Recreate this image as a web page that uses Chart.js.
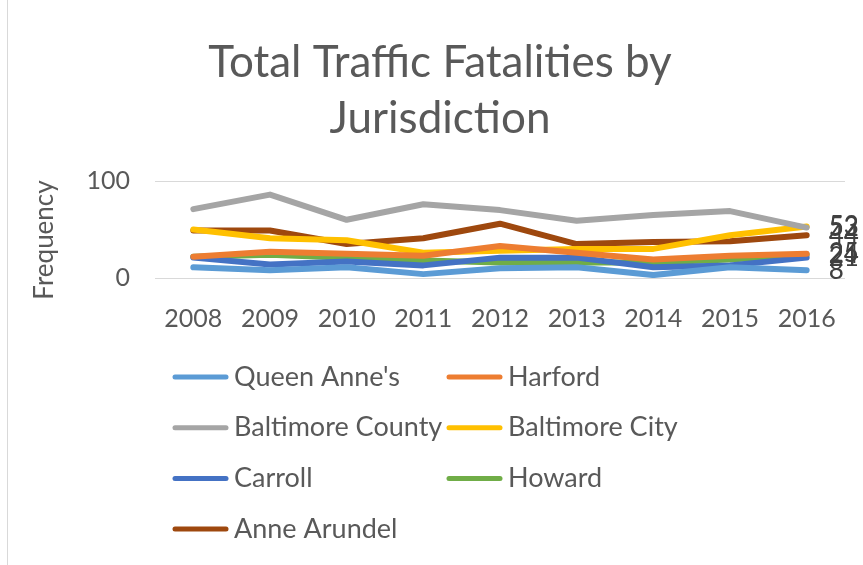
<!DOCTYPE html>
<html>
<head>
<meta charset="utf-8">
<script src="https://cdn.jsdelivr.net/npm/chart.js@4"></script>
<style>
  html, body { margin: 0; padding: 0; background: #fff; }
  #wrap { position: relative; width: 863px; height: 565px; }
  #wrap::before { content: ""; position: absolute; left: 7px; top: 0; bottom: 0; border-left: 1px solid #d9d9d9; }
</style>
</head>
<body>
<div id="wrap"><canvas id="traffic" width="863" height="565"></canvas></div>
<script>
// years on the x axis
var years = ['2008', '2009', '2010', '2011', '2012', '2013', '2014', '2015', '2016'];
var yTicks = [0, 100];

// fatalities per jurisdiction
var queenAnnes = [11, 8, 11, 4, 10, 11, 3, 11, 8];
var harford = [22, 27, 25, 23, 33, 26, 19, 23, 25];
var baltimoreCounty = [71, 86, 60, 76, 70, 59, 65, 69, 52];
var baltimoreCity = [50, 41, 39, 26, 28, 30, 30, 44, 53];
var carroll = [21, 14, 17, 13, 21, 21, 11, 13, 21];
var howard = [22, 24, 21, 18, 16, 16, 16, 19, 24];
var anneArundel = [49, 49, 35, 41, 56, 35, 37, 38, 44];

var FONT = 'Lato';
var TEXT = '#595959';

function series(label, data, color) {
    return {
        label: label,
        data: data,
        borderColor: color,
        backgroundColor: color,
        borderWidth: 6,
        borderCapStyle: 'round',
        borderJoinStyle: 'round',
        pointRadius: 0,
        pointHoverRadius: 0,
        tension: 0,
        fill: false
    };
}

// value of the last year, right of the line end
var endLabels = {
    id: 'endLabels',
    afterDatasetsDraw: function(chart) {
        var ctx = chart.ctx;
        ctx.save();
        ctx.font = '26px ' + FONT;
        ctx.fillStyle = '#404040';
        ctx.textAlign = 'left';
        ctx.textBaseline = 'middle';
        chart.data.datasets.forEach(function(ds, i) {
            var pts = chart.getDatasetMeta(i).data;
            var p = pts[pts.length - 1];
            ctx.fillText(ds.data[ds.data.length - 1], p.x + 22, p.y);
        });
        ctx.restore();
    }
};

// axis title sits a bit low, like in the excel file
var yTitle = {
    id: 'yTitle',
    afterDraw: function(chart) {
        var ctx = chart.ctx;
        ctx.save();
        ctx.translate(53, 240);
        ctx.rotate(-Math.PI / 2);
        ctx.font = '26px ' + FONT;
        ctx.fillStyle = TEXT;
        ctx.textAlign = 'center';
        ctx.textBaseline = 'alphabetic';
        ctx.fillText('Frequency', 0, 0);
        ctx.restore();
    }
};

// two column legend like the excel one
var gridLegend = {
    id: 'gridLegend',
    afterDraw: function(chart) {
        var ctx = chart.ctx;
        ctx.save();
        ctx.font = '27px ' + FONT;
        ctx.textBaseline = 'middle';
        ctx.textAlign = 'left';
        chart.data.datasets.forEach(function(ds, i) {
            var col = i % 2;
            var row = Math.floor(i / 2);
            var x = col === 0 ? 173 : 447;
            var y = 377 + row * 50.7;
            ctx.strokeStyle = ds.borderColor;
            ctx.lineWidth = 5;
            ctx.lineCap = 'round';
            ctx.beginPath();
            ctx.moveTo(x + 2, y);
            ctx.lineTo(x + 53, y);
            ctx.stroke();
            ctx.fillStyle = TEXT;
            ctx.fillText(ds.label, x + 61, y);
        });
        ctx.restore();
    }
};

new Chart(document.getElementById('traffic'), {
    type: 'line',
    data: {
        labels: years,
        datasets: [
            series("Queen Anne's", queenAnnes, '#5B9BD5'),
            series('Harford', harford, '#ED7D31'),
            series('Baltimore County', baltimoreCounty, '#A5A5A5'),
            series('Baltimore City', baltimoreCity, '#FFC000'),
            series('Carroll', carroll, '#4472C4'),
            series('Howard', howard, '#70AD47'),
            series('Anne Arundel', anneArundel, '#9E480E')
        ]
    },
    options: {
        responsive: false,
        animation: false,
        layout: { padding: { left: 35, right: 18, top: 0, bottom: 237 } },
        scales: {
            x: {
                offset: true,
                grid: { display: false, drawTicks: false },
                border: { display: false },
                ticks: { color: TEXT, font: { family: FONT, size: 25 }, padding: 26, maxRotation: 0 },
                afterFit: function(scale) { scale.height = 50; }
            },
            y: {
                min: 0,
                max: 100,
                afterBuildTicks: function(scale) {
                    scale.ticks = yTicks.map(function(v) { return { value: v }; });
                },
                grid: { color: '#d9d9d9', lineWidth: 1, drawTicks: false },
                border: { display: false },
                ticks: { color: TEXT, font: { family: FONT, size: 25 }, padding: 25 },
                afterFit: function(scale) { scale.width = 120; }
            }
        },
        plugins: {
            legend: { display: false },
            tooltip: { enabled: false },
            title: {
                display: true,
                text: ['Total Traffic Fatalities by', 'Jurisdiction'],
                color: TEXT,
                font: { family: FONT, size: 44, weight: 'normal', lineHeight: '56px' },
                padding: { top: 35, bottom: 34 }
            }
        }
    },
    plugins: [endLabels, yTitle, gridLegend]
});
</script>
</body>
</html>
